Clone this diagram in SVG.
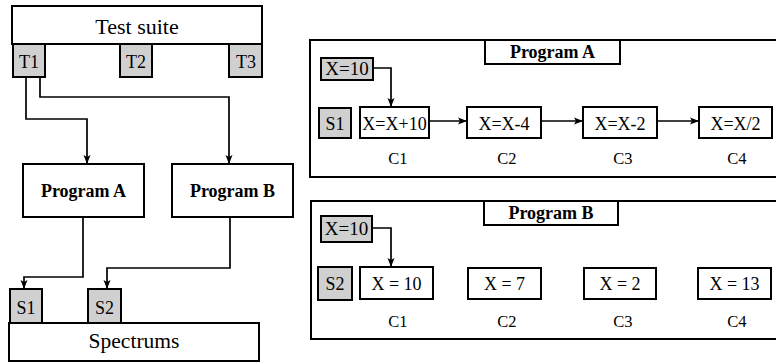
<svg xmlns="http://www.w3.org/2000/svg" width="776" height="362" viewBox="0 0 776 362">
<style>
.box{fill:#fff;stroke:#000;stroke-width:2}
.gray{fill:#d0d0d0;stroke:#000;stroke-width:2}
.t{font-family:"Liberation Serif","Times New Roman",serif;fill:#000;text-anchor:middle}
.b{font-weight:bold}
.c{fill:none;stroke:#000;stroke-width:1.7}
</style>
<defs>
<marker id="ah" markerUnits="userSpaceOnUse" markerWidth="10" markerHeight="10" viewBox="0 0 10 10" refX="9" refY="5" orient="auto">
<path d="M0,1.5 L9,5 L0,8.5 L2,5 z" fill="#000"/>
</marker>
</defs>
<rect width="776" height="362" fill="#fff"/>

<g id="test-suite">
<rect class="box" x="12" y="6" width="250" height="38"/>
<text class="t" x="137" y="34" font-size="22">Test suite</text>
</g>
<g id="T1"><rect class="gray" x="13" y="44" width="32" height="33"/><text class="t" x="29" y="68" font-size="18">T1</text></g>
<g id="T2"><rect class="gray" x="120" y="44" width="32" height="33"/><text class="t" x="136" y="68" font-size="18">T2</text></g>
<g id="T3"><rect class="gray" x="229" y="44" width="33" height="33"/><text class="t" x="246" y="68" font-size="18">T3</text></g>

<g id="program-a"><rect class="box" x="23" y="164" width="121" height="53"/><text class="t b" x="83.5" y="197" font-size="18">Program A</text></g>
<g id="program-b"><rect class="box" x="172" y="164" width="121" height="53"/><text class="t b" x="232.5" y="197" font-size="18">Program B</text></g>

<g id="S1-left"><rect class="gray" x="10" y="289" width="32" height="34"/><text class="t" x="26" y="314" font-size="18">S1</text></g>
<g id="S2-left"><rect class="gray" x="88" y="289" width="33" height="34"/><text class="t" x="104.5" y="314" font-size="18">S2</text></g>
<g id="spectrums"><rect class="box" x="9" y="323" width="250" height="38"/><text class="t" x="134" y="348" font-size="21.5">Spectrums</text></g>

<g id="panel-a">
<rect class="box" x="310" y="40" width="480" height="137"/>
<rect class="box" x="485" y="40" width="135" height="24"/>
<text class="t b" x="552.5" y="58" font-size="18">Program A</text>
<rect class="gray" x="321" y="58" width="52" height="22"/>
<text class="t" x="347" y="75" font-size="19">X=10</text>
<rect class="gray" x="319" y="108" width="32" height="30"/>
<text class="t" x="335" y="130" font-size="18">S1</text>
<rect class="box" x="360" y="107" width="69" height="31"/>
<text class="t" x="394.5" y="130" font-size="18">X=X+10</text>
<rect class="box" x="467" y="107" width="74" height="31"/>
<text class="t" x="504" y="130" font-size="18">X=X-4</text>
<rect class="box" x="583" y="107" width="74" height="31"/>
<text class="t" x="620" y="130" font-size="18">X=X-2</text>
<rect class="box" x="699" y="107" width="73" height="31"/>
<text class="t" x="735.5" y="130" font-size="18">X=X/2</text>
<text class="t" x="398" y="164" font-size="16.5">C1</text>
<text class="t" x="507" y="164" font-size="16.5">C2</text>
<text class="t" x="623" y="164" font-size="16.5">C3</text>
<text class="t" x="737" y="164" font-size="16.5">C4</text>
</g>

<g id="panel-b">
<rect class="box" x="311" y="201" width="480" height="138"/>
<rect class="box" x="484" y="201" width="134" height="24"/>
<text class="t b" x="551" y="219" font-size="18">Program B</text>
<rect class="gray" x="321" y="216" width="51" height="26"/>
<text class="t" x="346.5" y="235" font-size="19">X=10</text>
<rect class="gray" x="318" y="267" width="34" height="33"/>
<text class="t" x="335" y="290" font-size="18">S2</text>
<rect class="box" x="360" y="267" width="73" height="32"/>
<text class="t" x="396.5" y="290" font-size="18">X = 10</text>
<rect class="box" x="468" y="268" width="73" height="31"/>
<text class="t" x="504.5" y="290" font-size="18">X = 7</text>
<rect class="box" x="584" y="268" width="72" height="31"/>
<text class="t" x="620" y="290" font-size="18">X = 2</text>
<rect class="box" x="698" y="268" width="73" height="31"/>
<text class="t" x="734.5" y="290" font-size="18">X = 13</text>
<text class="t" x="398" y="327" font-size="16.5">C1</text>
<text class="t" x="507" y="327" font-size="16.5">C2</text>
<text class="t" x="623" y="327" font-size="16.5">C3</text>
<text class="t" x="737" y="327" font-size="16.5">C4</text>
</g>

<g id="connectors">
<path class="c" d="M26,77 V119 H87 V164" marker-end="url(#ah)"/>
<path class="c" d="M40,77 V97 H229 V164" marker-end="url(#ah)"/>
<path class="c" d="M83,217 V277 H24 V289" marker-end="url(#ah)"/>
<path class="c" d="M230,217 V268 H107 V289" marker-end="url(#ah)"/>
<path class="c" d="M373,68 H391 V107" marker-end="url(#ah)"/>
<path class="c" d="M429,121 H467" marker-end="url(#ah)"/>
<path class="c" d="M541,121 H583" marker-end="url(#ah)"/>
<path class="c" d="M657,121 H699" marker-end="url(#ah)"/>
<path class="c" d="M372,228 H391 V267" marker-end="url(#ah)"/>
</g>
</svg>
